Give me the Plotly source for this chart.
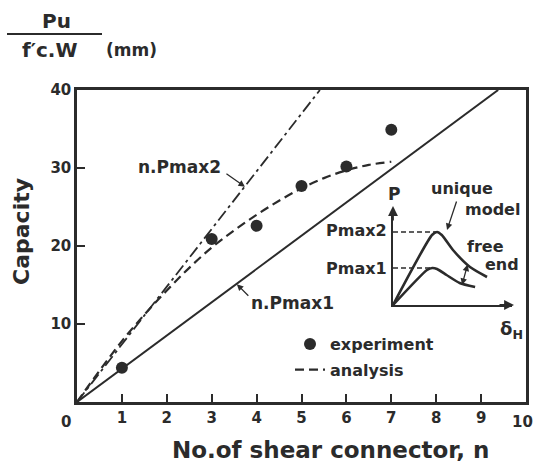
import plotly.graph_objects as go

# ---------------- data ----------------
# experiment points
exp_n = [1, 3, 4, 5, 6, 7]
exp_cap = [4.4, 20.9, 22.6, 27.7, 30.2, 34.9]

# analysis (dashed curve)
ana_n = [0, 0.5, 1, 1.5, 2, 2.5, 3, 3.5, 4, 4.5, 5, 5.5, 6, 6.5, 7]
ana_cap = [0, 4.0, 7.8, 11.2, 14.3, 17.2, 19.8, 22.0, 24.0, 25.8, 27.4, 28.7, 29.7, 30.4, 30.8]

# n.Pmax1 (solid) and n.Pmax2 (dash-dot) straight lines
pmax1_n = [0, 9.38]
pmax1_cap = [0, 40]
pmax2_n = [0, 5.41]
pmax2_cap = [0, 40]

# inset: P - deltaH curves (arbitrary units)
unique_d = [0, 3.28, 3.7, 4.1, 5.04, 6.47, 7.9]
unique_p = [0, 7.0, 7.3, 7.0, 5.5, 3.8, 2.8]
free_d = [0, 2.86, 3.3, 3.7, 4.5, 5.6, 6.9]
free_p = [0, 3.5, 3.7, 3.6, 3.0, 2.2, 1.8]

x_ticks = [1, 2, 3, 4, 5, 6, 7, 8, 9]
y_ticks = [10, 20, 30, 40]

# ---------------- layout helpers ----------------
L, R, T, B = 77, 526, 90, 402
W, H = 534, 463


def pxx(xp):
    return (xp - L) / (R - L)


def pxy(yp):
    return (B - yp) / (B - T)


INK = "#2b2b2b"
FONT = "DejaVu Sans"

fig = go.Figure()

# main lines
fig.add_trace(go.Scatter(x=pmax1_n, y=pmax1_cap, mode="lines",
                         line=dict(color=INK, width=2), showlegend=False,
                         hoverinfo="skip"))
fig.add_trace(go.Scatter(x=pmax2_n, y=pmax2_cap, mode="lines",
                         line=dict(color=INK, width=1.8, dash="12px,4px,3px,4px"),
                         showlegend=False, hoverinfo="skip"))
fig.add_trace(go.Scatter(x=ana_n, y=ana_cap, mode="lines", name="analysis",
                         line=dict(color=INK, width=2.2, dash="9px,5px", shape="spline"),
                         legendgroup="b", legendrank=2))
fig.add_trace(go.Scatter(x=exp_n, y=exp_cap, mode="markers", name="experiment",
                         marker=dict(color=INK, size=12), legendgroup="a",
                         legendrank=1))

# inset curves
fig.add_trace(go.Scatter(x=unique_d, y=unique_p, mode="lines", xaxis="x2", yaxis="y2",
                         line=dict(color=INK, width=2.6, shape="spline", smoothing=0.6),
                         showlegend=False, hoverinfo="skip"))
fig.add_trace(go.Scatter(x=free_d, y=free_p, mode="lines", xaxis="x2", yaxis="y2",
                         line=dict(color=INK, width=2.6, shape="spline", smoothing=0.6),
                         showlegend=False, hoverinfo="skip"))
pk2 = max(unique_p)
pk1 = max(free_p)
fig.add_trace(go.Scatter(x=[0, unique_d[unique_p.index(pk2)]], y=[pk2, pk2], mode="lines",
                         xaxis="x2", yaxis="y2",
                         line=dict(color=INK, width=1.3, dash="5px,3px"),
                         showlegend=False, hoverinfo="skip"))
fig.add_trace(go.Scatter(x=[0, free_d[free_p.index(pk1)]], y=[pk1, pk1], mode="lines",
                         xaxis="x2", yaxis="y2",
                         line=dict(color=INK, width=1.3, dash="5px,3px"),
                         showlegend=False, hoverinfo="skip"))

ann = []


def txt(text, x, y, size=16, xanchor="center", xref="paper", yref="paper", **kw):
    ann.append(dict(text=text, x=x, y=y, xref=xref, yref=yref, showarrow=False,
                    xanchor=xanchor, yanchor="middle",
                    font=dict(family=FONT, size=size, color=INK, weight="bold"), **kw))


def arrow(x, y, ax, ay, xref="x", yref="y", side="end", width=1.3, size=1):
    ann.append(dict(text="", x=x, y=y, ax=ax, ay=ay, xref=xref, yref=yref,
                    showarrow=True, arrowhead=2, arrowsize=size, arrowwidth=width,
                    arrowcolor=INK, arrowside=side))


# title-like fraction at the top
txt("Pu", pxx(56), pxy(21), size=20)
txt("f′c.W", pxx(50), pxy(50), size=20)
txt("(mm)", pxx(131), pxy(50), size=17)
# axis titles
txt("No.of shear connector, n", pxx(330), pxy(450), size=23)
txt("Capacity", pxx(21), pxy(232), size=22, textangle=-90)
txt("0", pxx(66), pxy(422), size=15)
txt("10", pxx(522), pxy(422), size=15)

# main line labels
txt("n.Pmax2", 2.29, 30.1, size=17, xref="x", yref="y")
arrow(3.74, 27.6, -20, -14)
txt("n.Pmax1", 4.81, 12.7, size=17, xref="x", yref="y")
arrow(3.56, 15.1, 13, 13)

# inset labels
txt("P", pxx(394), pxy(194), size=17)
txt("Pmax2", pxx(389), pxy(231), size=16, xanchor="right")
txt("Pmax1", pxx(389), pxy(268), size=16, xanchor="right")
txt("unique", pxx(462), pxy(188), size=16)
txt("model", pxx(522), pxy(209), size=16, xanchor="right")
txt("free", pxx(485), pxy(246), size=16)
txt("end", pxx(521), pxy(264), size=16, xanchor="right")
txt("δ<sub>H</sub>", pxx(511), pxy(330), size=18)
arrow(4.54, 7.5, 10, -30, xref="x2", yref="y2")
arrow(5.8, 2.0, 6, -22, xref="x2", yref="y2", side="end+start")
# inset axis arrowheads
arrow(pxx(393), pxy(206), 0, 16, xref="paper", yref="paper", width=1.8, size=1.1)
arrow(pxx(514), pxy(305), -16, 0, xref="paper", yref="paper", width=1.8, size=1.1)

shapes = [dict(type="line", xref="paper", yref="paper",
               x0=pxx(7), x1=pxx(102), y0=pxy(34), y1=pxy(34),
               line=dict(color=INK, width=2))]

axis_common = dict(showgrid=False, zeroline=False, showline=True, linecolor=INK,
                   linewidth=2.5, mirror=True, ticks="inside", ticklen=8,
                   tickwidth=2, tickcolor=INK, automargin=False,
                   tickfont=dict(family=FONT, size=15, color=INK, weight="bold"))

fig.update_layout(
    width=W, height=H, autosize=False,
    margin=dict(l=L, r=W - R, t=T, b=H - B, pad=0),
    paper_bgcolor="white", plot_bgcolor="white",
    font=dict(family=FONT, color=INK, weight="bold"),
    xaxis=dict(range=[0, 10], tickvals=x_ticks, ticktext=[str(v) for v in x_ticks],
               **axis_common),
    yaxis=dict(range=[0, 40], tickvals=y_ticks, ticktext=[str(v) for v in y_ticks],
               **axis_common),
    xaxis2=dict(domain=[pxx(393), pxx(512)], range=[0, 10], anchor="y2",
                showgrid=False, zeroline=False, showline=True, linecolor=INK,
                linewidth=2, showticklabels=False, ticks="", automargin=False),
    yaxis2=dict(domain=[pxy(305), pxy(210)], range=[0, 9.5], anchor="x2",
                showgrid=False, zeroline=False, showline=True, linecolor=INK,
                linewidth=2, showticklabels=False, ticks="", automargin=False),
    showlegend=True,
    legend=dict(x=pxx(290), y=pxy(327), xanchor="left", yanchor="top",
                bgcolor="rgba(0,0,0,0)", font=dict(family=FONT, size=16, color=INK,
                                                    weight="bold"),
                traceorder="grouped", tracegroupgap=2, itemwidth=30),
    annotations=ann,
    shapes=shapes,
)

fig.write_html("out.html")
